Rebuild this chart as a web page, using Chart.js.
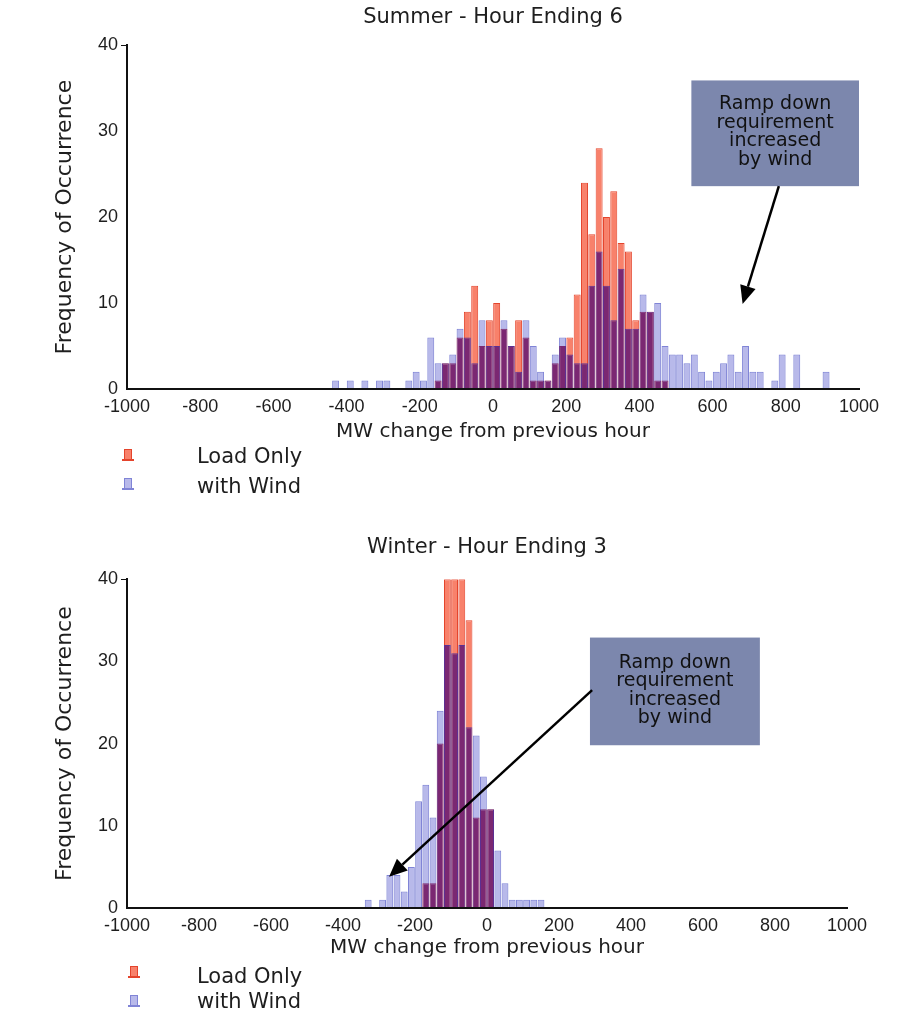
<!DOCTYPE html>
<html>
<head>
<meta charset="utf-8">
<script src="https://cdn.jsdelivr.net/npm/chart.js@4.4.1/dist/chart.umd.min.js"></script>
<style>
  html, body { margin: 0; padding: 0; background: #fff; }
  canvas { display: block; }
</style>
</head>
<body>
<canvas id="summerChart" width="897" height="510"></canvas>
<canvas id="winterChart" width="897" height="504"></canvas>
<script>
// bin centres (MW change) and counts
const summerBins = [-430, -410, -390, -370, -350, -330, -310, -290, -270, -250, -230, -210, -190, -170,
  -150, -130, -110, -90, -70, -50, -30, -10, 10, 30, 50, 70, 90, 110, 130, 150, 170, 190, 210, 230,
  250, 270, 290, 310, 330, 350, 370, 390, 410, 430, 450, 470,
  490, 510, 530, 550, 570, 590, 610, 630, 650, 670, 690, 710, 730, 750, 770, 790, 810, 830, 850, 870, 890, 910];
const summerLoad = [0, 0, 0, 0, 0, 0, 0, 0, 0, 0, 0, 0, 0, 0,
  1, 3, 3, 6, 9, 12, 5, 8, 10, 7, 5, 8, 6, 1, 1, 1, 3, 5, 6, 11,
  24, 18, 28, 20, 23, 17, 16, 8, 9, 9, 1, 1,
  0, 0, 0, 0, 0, 0, 0, 0, 0, 0, 0, 0, 0, 0, 0, 0, 0, 0, 0, 0, 0, 0];
const summerWind = [1, 0, 1, 0, 1, 0, 1, 1, 0, 0, 1, 2, 1, 6,
  3, 3, 4, 7, 6, 3, 8, 5, 5, 8, 5, 2, 8, 5, 2, 1, 4, 6, 4, 3,
  3, 12, 16, 12, 8, 14, 7, 7, 11, 9, 10, 5,
  4, 4, 3, 4, 2, 1, 2, 3, 4, 2, 5, 2, 2, 0, 1, 4, 0, 4, 0, 0, 0, 2];

const winterBins = [-330, -310, -290, -270, -250, -230, -210, -190, -170, -150, -130, -110, -90,
  -70, -50, -30, -10, 10, 30, 50, 70, 90, 110, 130, 150];
const winterLoad = [0, 0, 0, 0, 0, 0, 0, 0, 3, 3, 20, 40, 40, 40, 35, 11, 12, 12, 0, 0, 0, 0, 0, 0, 0];
const winterWind = [1, 0, 1, 4, 4, 2, 5, 13, 15, 11, 24, 32, 31, 32, 22, 21, 16, 12, 7, 3, 1, 1, 1, 1, 1];

const xTicks = [-1000, -800, -600, -400, -200, 0, 200, 400, 600, 800, 1000];
const yTicks = [0, 10, 20, 30, 40];
const seriesNames = ['Load Only', 'with Wind'];
const noteLines = ['Ramp down', 'requirement', 'increased', 'by wind'];
const xTitle = 'MW change from previous hour';
const yTitle = 'Frequency of Occurrence';

const loadFill = '#f8816b', loadEdge = '#e4442c';
const windFill = '#b8b9ea', windEdge = '#8084d6';
const bothFill = '#7b2872', bothEdge = '#5b2f92';
const tickFont = { family: "'Liberation Sans', Arial, sans-serif", size: 18 };

Chart.defaults.font.family = "'DejaVu Sans', sans-serif";
Chart.defaults.color = '#1e1e1e';

// red first, then the wind bars twice: dark where they sit on red, light where not
const blendPlugin = {
    id: 'blend',
    beforeDatasetDraw(chart, args) {
        chart.ctx.save();
        const mode = chart.data.datasets[args.index].blend;
        if (mode) chart.ctx.globalCompositeOperation = mode;
    },
    afterDatasetDraw(chart) {
        chart.ctx.restore();
    }
};

// text box + arrow, placed in data units
const notePlugin = {
    id: 'note',
    afterDraw(chart, args, o) {
        const { ctx, scales: { x, y } } = chart;
        const l = x.getPixelForValue(o.box[0]), r = x.getPixelForValue(o.box[1]);
        const t = y.getPixelForValue(o.box[2]), b = y.getPixelForValue(o.box[3]);
        ctx.save();
        ctx.fillStyle = '#7c87ad';
        ctx.fillRect(l, t, r - l, b - t);
        ctx.fillStyle = '#111';
        ctx.font = "19px 'DejaVu Sans'";
        ctx.textAlign = 'center';
        ctx.textBaseline = 'middle';
        const cx = (l + r) / 2, cy = (t + b) / 2 - 1;
        noteLines.forEach((s, i) => ctx.fillText(s, cx, cy + (i - 1.5) * 18.5));

        const x0 = x.getPixelForValue(o.arrow[0]), y0 = y.getPixelForValue(o.arrow[1]);
        const x1 = x.getPixelForValue(o.arrow[2]), y1 = y.getPixelForValue(o.arrow[3]);
        const ang = Math.atan2(y1 - y0, x1 - x0);
        const head = 18, half = 8;
        const bx = x1 - head * Math.cos(ang), by = y1 - head * Math.sin(ang);
        ctx.strokeStyle = '#000';
        ctx.lineWidth = 2.5;
        ctx.beginPath();
        ctx.moveTo(x0, y0);
        ctx.lineTo(bx, by);
        ctx.stroke();
        ctx.fillStyle = '#000';
        ctx.beginPath();
        ctx.moveTo(x1, y1);
        ctx.lineTo(bx + half * Math.sin(ang), by - half * Math.cos(ang));
        ctx.lineTo(bx - half * Math.sin(ang), by + half * Math.cos(ang));
        ctx.closePath();
        ctx.fill();
        ctx.restore();
    }
};

// stacked legend under the axis, left side
const keyPlugin = {
    id: 'key',
    afterDraw(chart, args, o) {
        const ctx = chart.ctx;
        ctx.save();
        ctx.font = "21px 'DejaVu Sans'";
        ctx.textBaseline = 'alphabetic';
        [0, 2].forEach((dsIndex, i) => {
            const ds = chart.data.datasets[dsIndex];
            const cx = o.iconX, cy = o.iconY[i];
            ctx.fillStyle = ds.backgroundColor;
            ctx.strokeStyle = ds.borderColor;
            ctx.lineWidth = 1;
            ctx.fillRect(cx - 3, cy - 5, 6, 9);
            ctx.strokeRect(cx - 3.5, cy - 5.5, 7, 10);
            ctx.fillStyle = ds.borderColor;
            ctx.fillRect(cx - 6, cy + 4, 12, 2);
            ctx.fillStyle = '#1e1e1e';
            ctx.fillText(ds.label, o.textX, o.baseY[i]);
        });
        ctx.restore();
    }
};

function buildChart(canvasId, bins, load, wind, c) {
    const pts = vals => bins.map((b, i) => ({ x: b, y: vals[i] })).filter(p => p.y > 0);
    return new Chart(document.getElementById(canvasId), {
        type: 'bar',
        data: {
            datasets: [
                { label: seriesNames[0], data: pts(load), backgroundColor: loadFill, borderColor: loadEdge, borderWidth: 1, order: 3 },
                { label: 'overlap', data: pts(wind), backgroundColor: bothFill, borderColor: bothEdge, borderWidth: 1, order: 2, blend: 'source-atop' },
                { label: seriesNames[1], data: pts(wind), backgroundColor: windFill, borderColor: windEdge, borderWidth: 1, order: 1, blend: 'destination-over' }
            ]
        },
        options: {
            responsive: false,
            animation: false,
            events: [],
            layout: { padding: { left: 0, right: c.padRight, top: 0, bottom: c.padBottom } },
            datasets: { bar: { grouped: false, barPercentage: 0.95, categoryPercentage: 1, inflateAmount: 0 } },
            plugins: {
                legend: { display: false },
                tooltip: { enabled: false },
                title: {
                    display: true,
                    text: c.title,
                    fullSize: false,
                    color: '#1e1e1e',
                    font: { size: 21, weight: 'normal' },
                    padding: { top: c.titleTop, bottom: c.titleBottom }
                },
                note: { box: c.box, arrow: c.arrow },
                key: { iconX: c.iconX, iconY: c.iconY, textX: 197, baseY: c.baseY }
            },
            scales: {
                x: {
                    type: 'linear',
                    min: -1000,
                    max: 1000,
                    offset: false,
                    grid: { display: false, drawTicks: false },
                    border: { display: true, color: '#111', width: 2, z: 1 },
                    ticks: { padding: 7, font: tickFont, color: '#1e1e1e', maxRotation: 0, autoSkip: false, callback: v => String(v) },
                    afterBuildTicks: s => { s.ticks = xTicks.map(v => ({ value: v })); },
                    afterFit: s => { s.height = 55; },
                    title: { display: true, text: xTitle, color: '#1e1e1e', font: { size: 20 }, padding: { top: 0, bottom: c.xTitlePad } }
                },
                y: {
                    min: 0,
                    max: 40,
                    grid: {
                        display: true, drawOnChartArea: false, drawTicks: true, tickLength: 6,
                        color: ctx => (ctx.tick && ctx.tick.value === 40 ? '#111' : 'rgba(0,0,0,0)')
                    },
                    border: { display: true, color: '#111', width: 2, z: 1 },
                    ticks: { padding: 3, font: tickFont, color: '#1e1e1e' },
                    afterBuildTicks: s => { s.ticks = yTicks.map(v => ({ value: v })); },
                    afterFit: s => { s.width = 127; },
                    title: { display: true, text: yTitle, color: '#1e1e1e', font: { size: 22 }, padding: { top: 52, bottom: 0 } }
                }
            }
        },
        plugins: [blendPlugin, notePlugin, keyPlugin]
    });
}

buildChart('summerChart', summerBins, summerLoad, summerWind, {
    title: 'Summer - Hour Ending 6',
    padRight: 38, padBottom: 66,
    titleTop: 5, titleBottom: 15,
    xTitlePad: 0,
    box: [542, 1000, 35.9, 23.6],
    arrow: [781, 23.6, 682, 9.9],
    iconX: 128, iconY: [455, 484], baseY: [463, 493]
});

buildChart('winterChart', winterBins, winterLoad, winterWind, {
    title: 'Winter - Hour Ending 3',
    padRight: 50, padBottom: 51,
    titleTop: 25, titleBottom: 19,
    xTitlePad: 3,
    box: [286, 758, 32.9, 19.8],
    arrow: [292, 26.5, -272, 3.8],
    iconX: 134, iconY: [462, 491], baseY: [473, 498]
});
</script>
</body>
</html>
